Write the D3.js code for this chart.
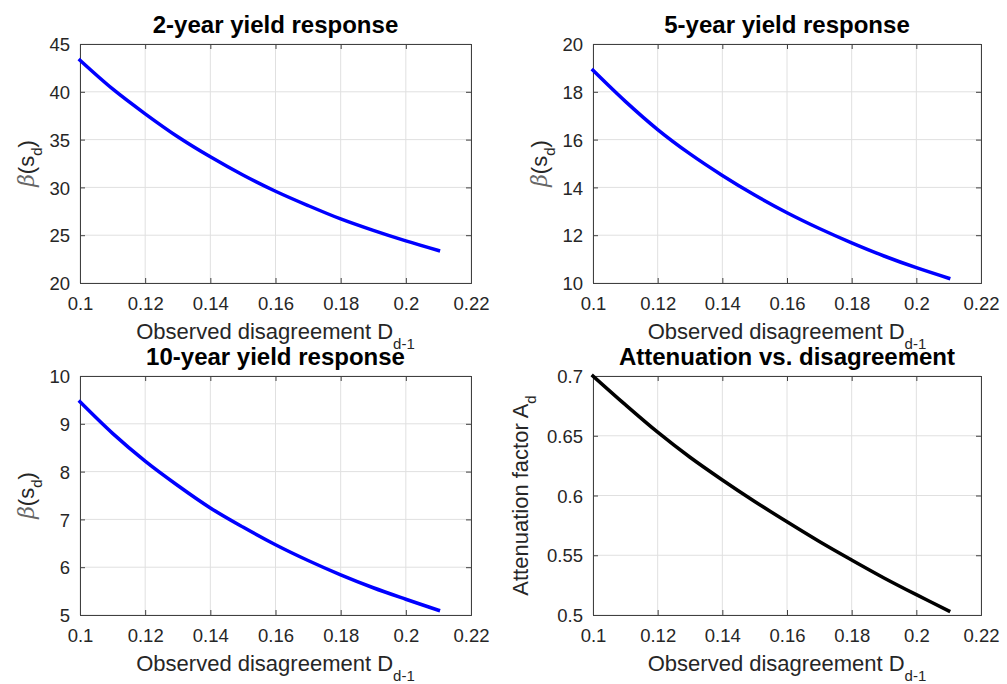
<!DOCTYPE html>
<html>
<head>
<meta charset="utf-8">
<script src="https://cdn.jsdelivr.net/npm/d3@7"></script>
<style>
  body { margin: 0; background: #fff; }
  svg { display: block; font-family: "Liberation Sans", Arial, Helvetica, sans-serif; }
</style>
</head>
<body>
<svg id="chart" width="1007" height="684"></svg>
<script>
// observed disagreement D_{d-1}
var xs = [0.10, 0.11, 0.12, 0.13, 0.14, 0.15, 0.16, 0.17, 0.18, 0.19, 0.20, 0.21];

var beta2y  = [43.3, 40.3, 37.7, 35.3, 33.2, 31.3, 29.6, 28.1, 26.7, 25.5, 24.4, 23.4];
var beta5y  = [18.9, 17.6, 16.42, 15.4, 14.5, 13.68, 12.94, 12.28, 11.68, 11.13, 10.64, 10.2];
var beta10y = [9.46, 8.8, 8.22, 7.71, 7.24, 6.84, 6.47, 6.14, 5.84, 5.57, 5.33, 5.1];
var atten   = [0.700, 0.676, 0.653, 0.632, 0.613, 0.595, 0.578, 0.5615, 0.546, 0.531, 0.517, 0.5035];

var xTicks = [0.1, 0.12, 0.14, 0.16, 0.18, 0.2, 0.22];
var yTicks2y  = [20, 25, 30, 35, 40, 45];
var yTicks5y  = [10, 12, 14, 16, 18, 20];
var yTicks10y = [5, 6, 7, 8, 9, 10];
var yTicksAtt = [0.5, 0.55, 0.6, 0.65, 0.7];

var panels = [
  { title: "2-year yield response", values: beta2y, yDomain: [20, 45], yTicks: yTicks2y,
    ylabel: "beta", color: "#0000ff", box: [80, 471, 44, 283], ylabOff: 46 },
  { title: "5-year yield response", values: beta5y, yDomain: [10, 20], yTicks: yTicks5y,
    ylabel: "beta", color: "#0000ff", box: [593, 981, 44, 283], ylabOff: 46 },
  { title: "10-year yield response", values: beta10y, yDomain: [5, 10], yTicks: yTicks10y,
    ylabel: "beta", color: "#0000ff", box: [80, 471, 376, 615], ylabOff: 46 },
  { title: "Attenuation vs. disagreement", values: atten, yDomain: [0.5, 0.7], yTicks: yTicksAtt,
    ylabel: "att", color: "#000000", box: [593, 981, 376, 615], ylabOff: 65 }
];

var svg = d3.select("#chart");
var textColor = "#262626";

panels.forEach(function (p) {
  var x0 = p.box[0], x1 = p.box[1], y0 = p.box[2], y1 = p.box[3];
  var x = d3.scaleLinear().domain([0.1, 0.22]).range([x0, x1]);
  var y = d3.scaleLinear().domain(p.yDomain).range([y1, y0]);
  var g = svg.append("g");

  // grid
  g.append("g").selectAll("line").data(xTicks).enter().append("line")
    .attr("x1", function (d) { return x(d); }).attr("x2", function (d) { return x(d); })
    .attr("y1", y0).attr("y2", y1)
    .attr("stroke", "#e0e0e0").attr("stroke-width", 1);
  g.append("g").selectAll("line").data(p.yTicks).enter().append("line")
    .attr("y1", function (d) { return y(d); }).attr("y2", function (d) { return y(d); })
    .attr("x1", x0).attr("x2", x1)
    .attr("stroke", "#e0e0e0").attr("stroke-width", 1);

  // axes with inward ticks on all four sides
  var fmt = function (d) { return String(+d.toFixed(4)); };
  var bottom = g.append("g").attr("transform", "translate(0," + y1 + ")")
    .call(d3.axisBottom(x).tickValues(xTicks).tickSize(-5).tickFormat(fmt));
  var top = g.append("g").attr("transform", "translate(0," + y0 + ")")
    .call(d3.axisTop(x).tickValues(xTicks).tickSize(-5).tickFormat(""));
  var left = g.append("g").attr("transform", "translate(" + x0 + ",0)")
    .call(d3.axisLeft(y).tickValues(p.yTicks).tickSize(-5).tickFormat(fmt));
  var right = g.append("g").attr("transform", "translate(" + x1 + ",0)")
    .call(d3.axisRight(y).tickValues(p.yTicks).tickSize(-5).tickFormat(""));

  [bottom, top, left, right].forEach(function (a) {
    a.select(".domain").attr("stroke", "#404040").attr("stroke-width", 1);
    a.selectAll(".tick line").attr("stroke", "#404040");
    a.selectAll(".tick text").attr("fill", textColor)
      .attr("font-size", "18.5px").attr("font-family", "Liberation Sans, Arial, sans-serif");
  });
  bottom.selectAll(".tick text").attr("y", 27).attr("dy", null);
  left.selectAll(".tick text").attr("x", -10).attr("dy", "0.36em");

  // curve
  var pts = xs.map(function (d, i) { return [d, p.values[i]]; });
  g.append("path")
    .datum(pts)
    .attr("fill", "none")
    .attr("stroke", p.color)
    .attr("stroke-width", 3.5)
    .attr("stroke-linecap", "square")
    .attr("d", d3.line()
      .x(function (d) { return x(d[0]); })
      .y(function (d) { return y(d[1]); })
      .curve(d3.curveCatmullRom));

  // title
  g.append("text")
    .attr("x", (x0 + x1) / 2).attr("y", y0 - 11)
    .attr("text-anchor", "middle")
    .attr("font-weight", "bold").attr("font-size", "24px").attr("fill", "#000")
    .text(p.title);

  // x label
  var xl = g.append("text")
    .attr("x", (x0 + x1) / 2).attr("y", y1 + 56)
    .attr("text-anchor", "middle")
    .attr("font-size", "22px").attr("fill", textColor);
  xl.append("tspan").text("Observed disagreement D");
  xl.append("tspan").attr("dy", 10).attr("font-size", "15px").text("d-1");

  // y label
  var yl = g.append("text")
    .attr("transform", "translate(" + (x0 - p.ylabOff) + "," + ((y0 + y1) / 2) + ") rotate(-90)")
    .attr("text-anchor", "middle")
    .attr("font-size", "22px").attr("fill", textColor);
  if (p.ylabel === "beta") {
    yl.append("tspan").attr("font-family", "DejaVu Serif, serif").attr("font-style", "italic")
      .attr("fill", "#666").text("\u03b2");
    yl.append("tspan").text("(s");
    yl.append("tspan").attr("dy", 8).attr("font-size", "15px").text("d");
    yl.append("tspan").attr("dy", -8).text(")");
  } else {
    yl.append("tspan").text("Attenuation factor A");
    yl.append("tspan").attr("dy", 8).attr("font-size", "15px").text("d");
  }
});
</script>
</body>
</html>
